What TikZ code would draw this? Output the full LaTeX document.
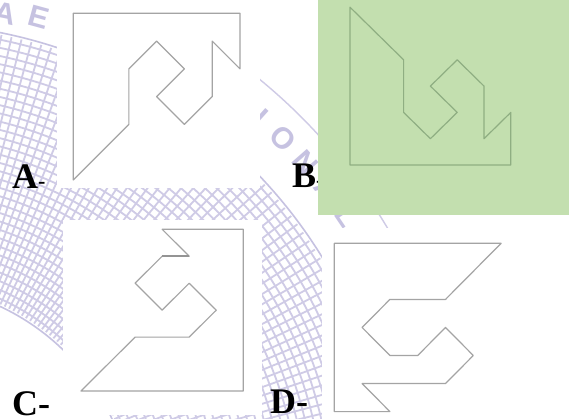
\documentclass[tikz,border=0pt]{standalone}
\usepackage{fontspec}
\setmainfont{Liberation Serif}
\newfontfamily\wmfont{Liberation Sans}
\definecolor{wm}{HTML}{CFCBE6}
\definecolor{wmdark}{HTML}{C6C2E1}
\definecolor{panelgreen}{HTML}{C3DFAF}
\definecolor{shapegray}{HTML}{A4A4A4}
\definecolor{shapegreen}{HTML}{8FAE82}
\begin{document}
\begin{tikzpicture}[x=1pt,y=-1pt,
  shapeline/.style={draw=shapegray, line width=1.2pt, line join=round},
  greenline/.style={draw=shapegreen, line width=1.2pt, line join=round},
  meshline/.style={draw=wm, line width=1.8pt},
  wmtext/.style={text=wmdark, font=\wmfont\bfseries\fontsize{30}{30}\selectfont, inner sep=0pt},
  lab/.style={font=\fontsize{36}{36}\selectfont\bfseries, inner sep=0pt, anchor=base west}]
\useasboundingbox (0,0) rectangle (569,419);
\fill[white] (0,0) rectangle (569,419);
% watermark
\begin{scope}
\clip (0,0) rectangle (569,419);
\begin{scope}[shift={(-97,515)}, y=1pt]
  \foreach \r in {237,245,...,488} \draw[meshline] (0,0) circle (\r);
  \foreach \a in {4,5.2,...,90} \draw[meshline] (\a:232) -- (\a:490);
  \draw[wmdark, line width=1.6pt] (0,0) circle (492);
  \draw[wmdark, line width=1.6pt] (0,0) circle (230);
  \draw[wm, line width=1.4pt] (0,0) circle (563);
  \node[wmtext, rotate={78.5-90}] (wa) at (78.5:512) {A};
  \node[wmtext, rotate={74.7-90}] (we) at (74.7:516) {E};
  \node[wmtext, rotate={48-90}] (wi) at (48:535) {I};
  \node[wmtext, rotate={44.8-90}] (wo) at (44.8:535) {O};
  \node[wmtext, rotate={41.2-90}] (wn) at (41.2:535) {N};
  \node[wmtext, rotate={37.5-90}] (wa2) at (37.5:535) {A};
  \node[wmtext, rotate={33.9-90}] (wl) at (33.9:535) {L};
\end{scope}
\end{scope}
% labels (behind panels)
\node[lab] (la) at (12,189) {A{\fontsize{22}{22}\selectfont-}};
\node[lab] (lb) at (292,188) {B{\fontsize{22}{22}\selectfont-}};
\node[lab] (lc) at (12,415) {C-};
\node[lab] (ld) at (270,413) {D-};
% panels
\fill[white] (57,0) rectangle (260,188);
\fill[panelgreen] (318,0) rectangle (569,215);
\fill[white] (63,220) rectangle (262,415);
\fill[white] (322,228) rectangle (569,419);
% shape A
\begin{scope}[shift={(73.3,13.3)}, x=27.78pt, y=-27.78pt]
  \draw[shapeline] (0,0) -- (6,0) -- (6,2) -- (5,1) -- (5,3) -- (4,4) -- (3,3) -- (4,2)
    -- (3,1) -- (2,2) -- (2,4) -- (0,6) -- cycle;
\end{scope}
% shape B
\begin{scope}[shift={(350,165)}, x=26.8pt, y=26.3pt]
  \draw[greenline] (0,6) -- (2,4) -- (2,2) -- (3,1) -- (4,2) -- (3,3) -- (4,4) -- (5,3)
    -- (5,1) -- (6,2) -- (6,0) -- (0,0) -- cycle;
\end{scope}
% shape C
\begin{scope}[shift={(81,229.3)}, x=27.05pt, y=-26.95pt]
  \draw[shapeline] (3,0) -- (6,0) -- (6,6) -- (0,6) -- (2,4) -- (4,4) -- (5,3) -- (4,2)
    -- (3,3) -- (2,2) -- (3,1) -- (4,1) -- cycle;
  \draw[shapeline, line width=2.2pt, draw=shapegray!90!black] (3,1) -- (4,1);
\end{scope}
% shape D
\begin{scope}[shift={(334.3,243.3)}, x=27.8pt, y=-28.05pt]
  \draw[shapeline] (0,0) -- (6,0) -- (4,2) -- (2,2) -- (1,3) -- (2,4) -- (3,4) -- (4,3)
    -- (5,4) -- (4,5) -- (1,5) -- (2,6) -- (0,6) -- cycle;
\end{scope}
\end{tikzpicture}
\end{document}
